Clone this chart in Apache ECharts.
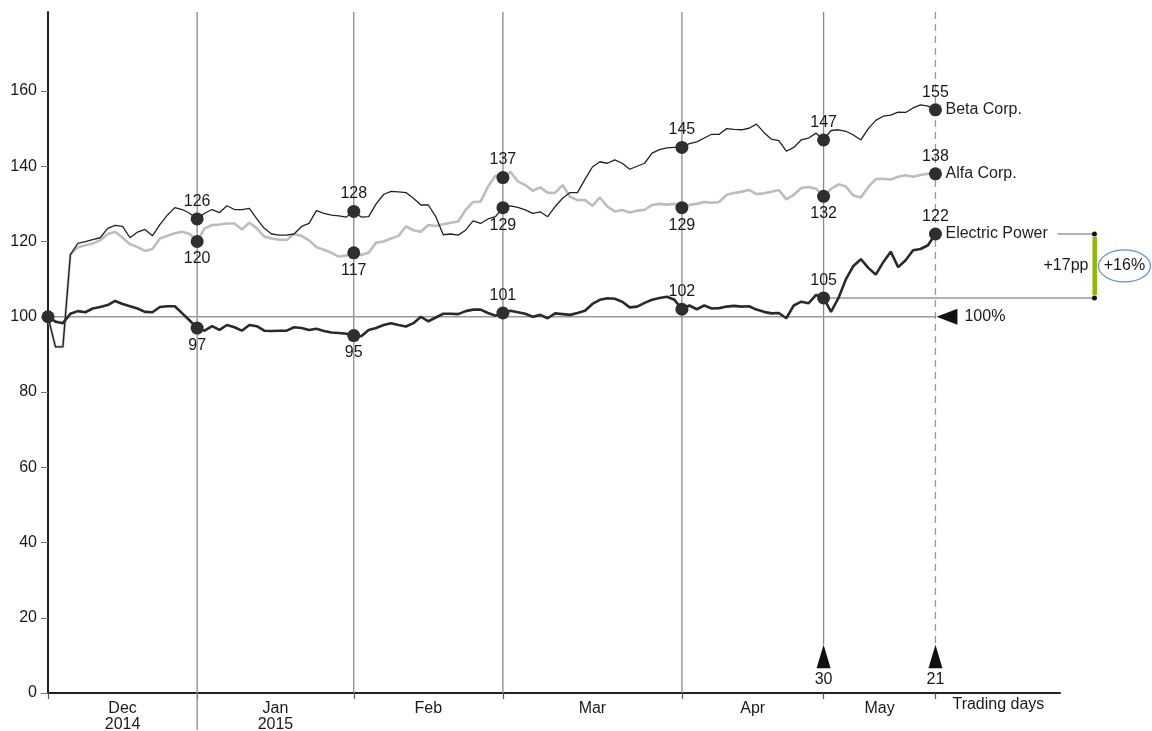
<!DOCTYPE html>
<html><head><meta charset="utf-8">
<script src="https://cdn.jsdelivr.net/npm/echarts@6/dist/echarts.min.js"></script>
<style>html,body{margin:0;padding:0;background:#fff}#c{width:1152px;height:731px}</style>
</head><body><div id="c"></div>
<script>
// ---- data (trading-day index 0 = 28 Nov 2014, 119 = 21 May 2015) ----
const beta = [100,92,92,116.5,119.5,120,120.5,121,123.5,124.3,124,121,122.5,123.2,121.5,124.5,127,129,128.5,127.5,126,
127.5,128.5,127.7,129.5,128.5,128.5,128.8,126,123.5,122,121.7,121.7,122,124,124.8,128.2,127.5,127,126.8,126.5,128,
126.5,126.6,130,132.5,133.3,133.2,133,131.5,129.7,129.7,126.6,121.8,122,121.7,123,125.5,124.8,126,126.6,129,
129.5,129.1,128.4,127.5,127.9,126.6,129.3,131.5,133,133,136.5,139.8,141.2,140.8,141.7,140.8,139.2,140,140.8,143.5,144.4,144.9,145,145,
146,146.5,147.5,148.5,148.5,150,149.8,149.7,150.1,151.2,149,147.2,146.8,144,145,147,147.5,148.8,147,
149.5,149.7,149.3,148.3,147,150,152.2,153.3,153.6,154.4,154.3,155.5,156.3,156,155];
const alfa = [100,92,92,116.5,118.5,119,119.5,120.3,122,122.6,121,119.3,118.5,117.5,118,120.8,121.5,122.2,122.6,122,120,
123.5,124.4,124.5,124.8,124.8,123.2,125,123.5,121.3,120.8,120.5,120.4,122,121.5,120.3,118.5,117.8,117,116,116.3,117,
116.4,117,119.7,120,120.8,121.5,124,123,122.6,124.4,124.1,124.6,125,125.3,128.4,130.5,130.6,134.6,137.5,137,
138.5,136,135,133.5,134.4,133,132.9,135,131.9,131,131,129.5,131.7,129.3,128,128.4,127.7,128.2,128.4,129.7,130,129.8,130,129,
129.7,130,130.5,130.3,130.5,132.4,132.9,133.2,133.7,132.6,132.8,133.2,133.7,131.2,132.4,134.2,134.5,134,132,
134,135.2,134.6,132.2,131.7,134.5,136.6,136.7,136.5,137.2,137.6,137.2,137.7,138,138];
const power = [100,98.7,98.3,100.8,101.5,101.2,102.2,102.6,103.1,104.2,103.4,102.8,102.2,101.3,101.2,102.6,102.8,102.8,100.9,99,97,
96.3,97.5,96.5,97.8,97.2,96.3,97.8,97.5,96.3,96.2,96.3,96.3,97.2,97,96.5,96.8,96.2,95.8,95.7,95.5,95,
94.8,96.5,97,97.8,98.3,97.8,97.4,98.3,100,98.8,99.8,100.8,100.8,100.7,101.5,101.9,101.9,101,100.3,101,
101.6,101.2,100.8,100,100.5,99.6,100.9,100.7,100.5,101,101.6,103.4,104.5,104.9,104.8,104,102.5,102.7,103.7,104.5,105,105.3,104.5,102,
103,102,103,102.2,102.3,102.7,102.9,102.7,102.8,101.9,101.3,100.9,101,99.6,103,104,103.6,105.8,105,
101.3,105,110,113.5,115.3,113,111.2,114.5,117.3,113.2,115,117.7,118,119,122];

const seriesNames = ['Beta Corp.', 'Alfa Corp.', 'Electric Power'];
const monthEndIdx = [0, 20, 41, 61, 85, 104, 119];
const monthLabels = ['Dec\n2014', 'Jan\n2015', 'Feb', 'Mar', 'Apr', 'May'];
const markerIdx = [20, 41, 61, 85, 104, 119];
const betaLabelPos = ['top', 'top', 'bottom', 'top', 'top', 'top'];
const alfaLabelPos = ['bottom', 'bottom', 'top', 'bottom', 'bottom', 'top'];
const powerLabelPos = ['bottom', 'bottom', 'top', 'top', 'top', 'top'];
const yTicks = [0, 20, 40, 60, 80, 100, 120, 140, 160];
const baseValue = 100;
const aprilDays = '30';
const mayDays = '21';
const ppText = '+17pp';
const pctText = '+16%';
const axisTitle = 'Trading days';

// ---- chart ----
const FONT = 'Liberation Sans, Arial, Helvetica, sans-serif';
const labelMid = monthLabels.map((_, k) => (monthEndIdx[k] + monthEndIdx[k + 1]) / 2);
const chart = echarts.init(document.getElementById('c'));
const xMax = 135.7, yMax = 181, arrowTop = 12.8, arrowBase = 6.6;

function markers(arr, pos) {
  return markerIdx.map((i, k) => ({ value: [i, arr[i]], label: { position: pos[k] } }));
}
function lineSeries(name, arr, color, width) {
  return {
    type: 'line', name, data: arr.map((v, i) => [i, v]), showSymbol: false, z: 3,
    lineStyle: { color, width }, silent: true,
    endLabel: { show: true, formatter: p => p.seriesName, distance: 10, fontSize: 16, color: '#222', fontFamily: FONT }
  };
}
function markerSeries(arr, pos) {
  return {
    type: 'scatter', data: markers(arr, pos), symbolSize: 13, z: 6, silent: true,
    itemStyle: { color: '#2e2e2e', opacity: 1 },
    label: { show: true, formatter: p => Math.round(p.value[1]), fontSize: 16, color: '#1a1a1a', distance: 3, fontFamily: FONT }
  };
}

chart.setOption({
  animation: false,
  textStyle: { fontFamily: FONT },
  grid: { left: 48, right: 92, top: 12, bottom: 38, containLabel: false, outerBoundsMode: 'none' },
  xAxis: {
    type: 'value', min: 0, max: xMax,
    axisLine: { show: true, lineStyle: { color: '#222', width: 2 } },
    axisTick: { show: true, customValues: monthEndIdx, length: 6, lineStyle: { color: '#555', width: 1.2 } },
    axisLabel: { show: true, customValues: labelMid, formatter: v => monthLabels[labelMid.indexOf(v)], fontSize: 16, lineHeight: 16, color: '#1a1a1a', margin: 8 },
    splitLine: { show: false }
  },
  yAxis: {
    type: 'value', min: 0, max: yMax, interval: 20,
    axisLine: { show: true, lineStyle: { color: '#222', width: 2 } },
    axisTick: { show: true, customValues: yTicks, length: 7, lineStyle: { color: '#777' } },
    axisLabel: { show: true, customValues: yTicks, fontSize: 16, color: '#1a1a1a', margin: 11 },
    splitLine: { show: false }
  },
  series: [
    lineSeries(seriesNames[1], alfa, '#bdbdbd', 2.6),
    lineSeries(seriesNames[0], beta, '#222', 1.3),
    lineSeries(seriesNames[2], power, '#2a2a2a', 2.6),
    markerSeries(beta, betaLabelPos),
    markerSeries(alfa, alfaLabelPos),
    markerSeries(power, powerLabelPos),
    { type: 'scatter', data: [[0, baseValue]], symbolSize: 13, z: 6, itemStyle: { color: '#2e2e2e', opacity: 1 }, silent: true }
  ]
});

const P = (x, y) => chart.convertToPixel({ gridIndex: 0 }, [x, y]);
const g = [];
const GRID = '#8a8a8a';
[20, 41, 61, 85].forEach(i => {
  const a = P(i, yMax), b = P(i, 0);
  g.push({ type: 'line', z: 1, shape: { x1: a[0], y1: a[1], x2: b[0], y2: b[1] }, style: { stroke: GRID, lineWidth: 1.3 } });
});
// year separator below axis
{
  const b = P(20, 0);
  g.push({ type: 'line', z: 1, shape: { x1: b[0], y1: b[1], x2: b[0], y2: b[1] + 37 }, style: { stroke: GRID, lineWidth: 1.3 } });
}
{
  const a = P(104, yMax), b = P(104, arrowTop);
  g.push({ type: 'line', z: 1, shape: { x1: a[0], y1: a[1], x2: b[0], y2: b[1] }, style: { stroke: GRID, lineWidth: 1.3 } });
  const c = P(119, yMax), d = P(119, arrowTop);
  g.push({ type: 'line', z: 1, shape: { x1: c[0], y1: c[1], x2: d[0], y2: d[1] }, style: { stroke: '#999', lineWidth: 1.3, lineDash: [7, 5] } });
}
// 100 baseline
{
  const a = P(0, baseValue), b = P(119, baseValue);
  g.push({ type: 'line', z: 1, shape: { x1: a[0], y1: a[1], x2: b[0], y2: b[1] }, style: { stroke: '#999', lineWidth: 1.5 } });
  g.push({ type: 'polygon', z: 10, shape: { points: [[b[0] + 1, b[1]], [b[0] + 22, b[1] - 8], [b[0] + 22, b[1] + 8]] }, style: { fill: '#111' } });
  g.push({ type: 'text', z: 10, x: b[0] + 29, y: b[1], style: { text: baseValue + '%', fontSize: 16, fill: '#1a1a1a', fontFamily: FONT, verticalAlign: 'middle' } });
}
// up arrows with day counts
[[104, aprilDays], [119, mayDays]].forEach(([i, t]) => {
  const top = P(i, arrowTop), base = P(i, arrowBase);
  g.push({ type: 'polygon', z: 10, shape: { points: [[top[0], top[1]], [top[0] - 7, base[1]], [top[0] + 7, base[1]]] }, style: { fill: '#111' } });
  g.push({ type: 'text', z: 10, x: top[0], y: base[1] + 3, style: { text: t, fontSize: 16, fill: '#1a1a1a', fontFamily: FONT, align: 'center', verticalAlign: 'top' } });
});
// axis title
{
  const b = P(119, 0);
  g.push({ type: 'text', z: 10, x: b[0] + 17, y: b[1] + 4, style: { text: axisTitle, fontSize: 16, fill: '#1a1a1a', fontFamily: FONT, verticalAlign: 'top' } });
}
// right-side change annotation
{
  const endX = P(119, 0)[0];
  const bx = endX + 159;
  const y105 = P(104, power[104]);
  const y122 = P(119, power[119]);
  g.push({ type: 'line', z: 1, shape: { x1: y105[0], y1: y105[1], x2: bx, y2: y105[1] }, style: { stroke: '#999', lineWidth: 1.5 } });
  g.push({ type: 'line', z: 1, shape: { x1: endX + 122, y1: y122[1], x2: bx, y2: y122[1] }, style: { stroke: '#999', lineWidth: 1.5 } });
  g.push({ type: 'rect', z: 9, shape: { x: bx - 2, y: y122[1] + 3, width: 4.5, height: y105[1] - y122[1] - 6 }, style: { fill: '#8fba00' } });
  g.push({ type: 'circle', z: 10, shape: { cx: bx, cy: y122[1], r: 2.5 }, style: { fill: '#111' } });
  g.push({ type: 'circle', z: 10, shape: { cx: bx, cy: y105[1], r: 2.5 }, style: { fill: '#111' } });
  const my = (y105[1] + y122[1]) / 2;
  g.push({ type: 'text', z: 10, x: bx - 6, y: my, style: { text: ppText, fontSize: 16, fill: '#1a1a1a', fontFamily: FONT, align: 'right', verticalAlign: 'middle' } });
  g.push({ type: 'ellipse', z: 10, shape: { cx: bx + 30, cy: my, rx: 26, ry: 16 }, style: { fill: 'none', stroke: '#5b8fd6', lineWidth: 1.2 } });
  g.push({ type: 'text', z: 11, x: bx + 30, y: my, style: { text: pctText, fontSize: 16, fill: '#1a1a1a', fontFamily: FONT, align: 'center', verticalAlign: 'middle' } });
}
chart.setOption({ graphic: g });
</script>
</body></html>
